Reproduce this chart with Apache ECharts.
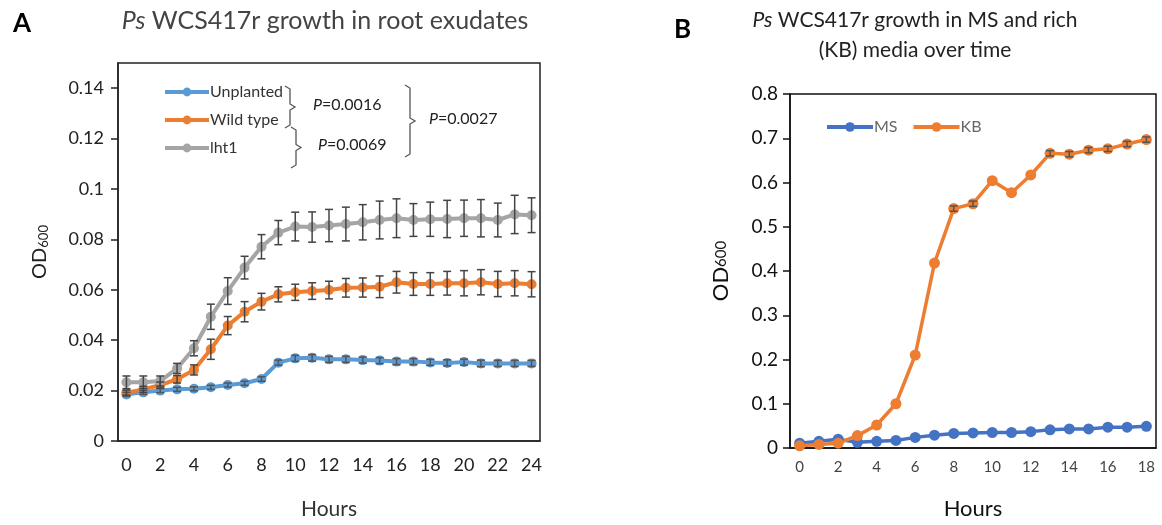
<!DOCTYPE html>
<html><head><meta charset="utf-8">
<script src="https://cdn.jsdelivr.net/npm/echarts@6/dist/echarts.min.js"></script>
<style>html,body{margin:0;padding:0;background:#fff}#c{width:1162px;height:525px}</style>
</head><body><div id="c"></div>
<script>
// ---- Panel A data ----
const hoursA = ['0','1','2','3','4','5','6','7','8','9','10','11','12','13','14','15','16','17','18','19','20','21','22','23','24'];
const unplanted = [0.0185,0.0193,0.0200,0.0205,0.0207,0.0213,0.0222,0.0229,0.0246,0.0311,0.0328,0.0330,0.0324,0.0324,0.0321,0.0319,0.0315,0.0315,0.0312,0.0310,0.0313,0.0308,0.0308,0.0308,0.0308];
const wildType  = [0.0192,0.0205,0.0222,0.0245,0.0282,0.0364,0.0458,0.0513,0.0553,0.0582,0.0590,0.0595,0.0599,0.0608,0.0609,0.0612,0.0630,0.0623,0.0623,0.0626,0.0626,0.0630,0.0623,0.0626,0.0622];
const lht1      = [0.0233,0.0233,0.0238,0.0288,0.0368,0.0493,0.0595,0.0688,0.0771,0.0827,0.0851,0.0849,0.0855,0.0861,0.0868,0.0877,0.0884,0.0877,0.0880,0.0881,0.0884,0.0884,0.0877,0.0899,0.0896];
const errUnplanted = [0.0008,0.0008,0.0008,0.0008,0.0008,0.0008,0.0008,0.0008,0.0009,0.0010,0.0012,0.0013,0.0012,0.0012,0.0012,0.0012,0.0012,0.0012,0.0012,0.0012,0.0012,0.0013,0.0012,0.0012,0.0012];
const errWildType  = [0.0010,0.0012,0.0012,0.0015,0.0020,0.0040,0.0036,0.0040,0.0033,0.0030,0.0032,0.0033,0.0035,0.0037,0.0038,0.0043,0.0043,0.0045,0.0045,0.0047,0.0050,0.0050,0.0050,0.0050,0.0050];
const errLht1      = [0.0025,0.0025,0.0020,0.0020,0.0030,0.0050,0.0053,0.0045,0.0048,0.0048,0.0057,0.0060,0.0064,0.0067,0.0070,0.0075,0.0077,0.0065,0.0068,0.0074,0.0072,0.0074,0.0067,0.0076,0.0069];
const yTicksA = [0,0.02,0.04,0.06,0.08,0.1,0.12,0.14];
const pValues = ['0.0016','0.0069','0.0027'];

// ---- Panel B data ----
const hoursB = ['0','1','2','3','4','5','6','7','8','9','10','11','12','13','14','15','16','17','18'];
const ms = [0.011,0.015,0.020,0.013,0.015,0.017,0.024,0.029,0.033,0.034,0.035,0.035,0.037,0.041,0.043,0.043,0.047,0.047,0.049];
const kb = [0.005,0.008,0.011,0.028,0.052,0.100,0.210,0.418,0.541,0.552,0.604,0.577,0.617,0.666,0.664,0.673,0.676,0.687,0.697];
const errKb = [0,0,0,0,0,0,0,0,0.006,0.006,0,0,0,0.006,0.006,0.006,0.006,0.006,0.006];

const FONT = 'Lato, "Open Sans", sans-serif';
const C_BLUE='#5B9BD5', C_ORANGE='#ED7D31', C_GRAY='#A5A5A5', C_MS='#4472C4';

function errSeries(vals, errs, xi, yi, color){
  return {
    type:'custom', xAxisIndex:xi, yAxisIndex:yi, z:5, silent:true,
    data: vals.map((v,i)=>[i, v, errs[i]]),
    renderItem:function(params, api){
      const x=api.value(0), y=api.value(1), e=api.value(2);
      if(!e) return;
      const t=api.coord([x,y+e]), b=api.coord([x,y-e]);
      const w=4, st={stroke:color, lineWidth:1.5};
      return {type:'group', children:[
        {type:'line', shape:{x1:t[0],y1:t[1],x2:b[0],y2:b[1]}, style:st},
        {type:'line', shape:{x1:t[0]-w,y1:t[1],x2:t[0]+w,y2:t[1]}, style:st},
        {type:'line', shape:{x1:b[0]-w,y1:b[1],x2:b[0]+w,y2:b[1]}, style:st}
      ]};
    }
  };
}
function lineSeries(name, vals, xi, yi, color, size, lw){
  return {name, type:'line', xAxisIndex:xi, yAxisIndex:yi, data:vals, symbol:'circle', symbolSize:size,
    itemStyle:{color}, lineStyle:{color, width:lw}, z:3, animation:false};
}
function brace(x, top, bottom){
  const mid=(top+bottom)/2;
  return {type:'polyline', shape:{points:[[x-5,top],[x,top+3],[x,mid-3],[x+5,mid],[x,mid+3],[x,bottom-3],[x-5,bottom]]},
    style:{stroke:'#555', lineWidth:1.3, fill:null}};
}
function pText(x, y, val){
  return {type:'text', left:x, top:y, style:{text:'{i|P}='+val, font:'16px '+FONT, fill:'#222',
    rich:{i:{fontStyle:'italic', fontSize:16, fontFamily:FONT, fill:'#222'}}}};
}

const chart = echarts.init(document.getElementById('c'), null, {renderer:'canvas'});
chart.setOption({
  animation:false,
  textStyle:{fontFamily:FONT},
  title:[
    {text:'{i|Ps} WCS417r growth in root exudates', left:320, top:3, textAlign:'center',
     textStyle:{fontSize:25, fontWeight:'normal', color:'#444', fontFamily:FONT, rich:{i:{fontStyle:'italic', fontSize:25, color:'#444', fontFamily:FONT}}}},
    {text:'A', left:8, top:6, textStyle:{fontSize:26, fontWeight:'bold', color:'#000', fontFamily:FONT}},
    {text:'{i|Ps} WCS417r growth in MS and rich\n(KB) media over time', left:910, top:0, textAlign:'center',
     textStyle:{fontSize:21, lineHeight:30, fontWeight:'normal', color:'#222', fontFamily:FONT, rich:{i:{fontStyle:'italic', fontSize:21, lineHeight:30, color:'#222', fontFamily:FONT}}}},
    {text:'B', left:669, top:12, textStyle:{fontSize:26, fontWeight:'bold', color:'#000', fontFamily:FONT}}
  ],
  legend:[
    {data:['Unplanted','Wild type','lht1'], orient:'vertical', left:158, top:79, itemWidth:44, itemHeight:11, itemGap:12,
     lineStyle:{width:4}, textStyle:{fontSize:16, color:'#333', fontFamily:FONT, padding:[0,0,0,-4]}},
    {data:['MS','KB'], orient:'horizontal', left:820, top:114, itemWidth:46, itemHeight:12, itemGap:14,
     lineStyle:{width:4}, textStyle:{fontSize:16, color:'#666', fontFamily:FONT, padding:[0,0,0,-4]}}
  ],
  grid:[
    {left:118, right:622, top:63, bottom:84, show:true, borderColor:'#222', borderWidth:1.5, backgroundColor:'transparent'},
    {left:790, right:6, top:94, bottom:76, show:true, borderColor:'#111', borderWidth:1.5, backgroundColor:'transparent'}
  ],
  xAxis:[
    {type:'category', gridIndex:0, data:hoursA, boundaryGap:true,
     axisLine:{lineStyle:{color:'#222', width:1.5}},
     axisTick:{alignWithLabel:true, interval:0, length:7, lineStyle:{color:'#222', width:1.5}},
     axisLabel:{interval:1, fontSize:18, color:'#222', margin:15, fontFamily:FONT},
     name:'Hours', nameLocation:'middle', nameGap:58, nameTextStyle:{fontSize:21, color:'#333', fontFamily:FONT}},
    {type:'category', gridIndex:1, data:hoursB, boundaryGap:true,
     axisLine:{lineStyle:{color:'#111', width:1.5}},
     axisTick:{length:7, lineStyle:{color:'#111', width:1.5}},
     axisLabel:{interval:1, fontSize:15, color:'#444', margin:12, fontFamily:FONT},
     name:'Hours', nameLocation:'middle', nameGap:50, nameTextStyle:{fontSize:22, color:'#111', fontFamily:FONT}}
  ],
  yAxis:[
    {type:'value', gridIndex:0, min:0, max:0.15, interval:0.02,
     axisLine:{show:true, lineStyle:{color:'#222', width:1.5}},
     axisTick:{show:true, length:7, lineStyle:{color:'#222', width:1.5}},
     splitLine:{show:false},
     axisLabel:{fontSize:18, color:'#222', margin:14, showMaxLabel:false, fontFamily:FONT,
       formatter:function(v){ const m=yTicksA.find(t=>Math.abs(t-v)<1e-9); return m===undefined?'':String(m);} },
     name:'OD{s|600}', nameLocation:'middle', nameGap:68,
     nameTextStyle:{fontSize:20, color:'#222', fontFamily:FONT, rich:{s:{fontSize:13, verticalAlign:'bottom', padding:[8,0,0,0], color:'#222', fontFamily:FONT}}}},
    {type:'value', gridIndex:1, min:0, max:0.8, interval:0.1,
     axisLine:{show:true, lineStyle:{color:'#111', width:1.5}},
     axisTick:{show:true, length:7, lineStyle:{color:'#111', width:1.5}},
     splitLine:{show:false},
     axisLabel:{fontSize:19, color:'#111', margin:12, fontFamily:FONT,
       formatter:function(v){ return String(+v.toFixed(1)); }},
     name:'OD{s|600}', nameLocation:'middle', nameGap:58,
     nameTextStyle:{fontSize:22, color:'#111', fontFamily:FONT, rich:{s:{fontSize:15, color:'#111', fontFamily:FONT}}}}
  ],
  series:[
    lineSeries('Unplanted', unplanted, 0, 0, C_BLUE, 10, 4),
    lineSeries('Wild type', wildType, 0, 0, C_ORANGE, 10, 4),
    lineSeries('lht1', lht1, 0, 0, C_GRAY, 10, 4),
    errSeries(unplanted, errUnplanted, 0, 0, '#555'),
    errSeries(wildType, errWildType, 0, 0, '#444'),
    errSeries(lht1, errLht1, 0, 0, '#444'),
    lineSeries('MS', ms, 1, 1, C_MS, 11, 3.5),
    lineSeries('KB', kb, 1, 1, C_ORANGE, 11, 3.5),
    errSeries(kb, errKb, 1, 1, '#555')
  ],
  graphic:[
    brace(290, 86, 128),
    brace(296, 127, 168),
    brace(410, 85, 157),
    pText(313, 97, pValues[0]),
    pText(318, 137, pValues[1]),
    pText(429, 111, pValues[2])
  ]
});
</script></body></html>
